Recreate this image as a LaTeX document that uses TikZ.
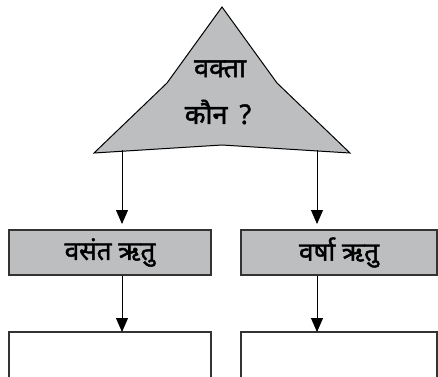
\documentclass[tikz,border=0pt]{standalone}
\usepackage{fontspec}
\newfontfamily\deva[Script=Devanagari,FakeBold=1.6]{Noto Sans}
\usetikzlibrary{arrows.meta}
\definecolor{boxgray}{HTML}{BCBEC0}
\definecolor{edge}{HTML}{333333}
\tikzset{
  graybox/.style={draw=edge, line width=1.2pt, fill=boxgray, minimum height=45pt, inner sep=0pt, font=\deva\fontsize{26}{30}\selectfont},
  emptybox/.style={draw=edge, line width=1.2pt, fill=white},
  label/.style={font=\deva\fontsize{27}{30}\selectfont, inner sep=0pt},
  conn/.style={draw=black, line width=0.9pt, -{Triangle[length=14pt,width=12pt]}},
}
\begin{document}
\begin{tikzpicture}[x=1pt,y=-1pt]
\clip (0,0) rectangle (438,376);
\fill[white] (0,0) rectangle (438,376);
% triangle
\draw[fill=boxgray, draw=black, line width=1pt, line join=miter]
  (222,7) -- (167,83) -- (94,153) -- (222,145) -- (350,153) -- (277,83) -- cycle;
\node[label] (t1) at (220,69) {वक्ता};
\node[label] (t2) at (218,112) {कौन\hspace{12pt}?};
\coordinate (s1) at (122,150);
\coordinate (s2) at (317,150);
% boxes
\node[graybox, minimum width=202pt] (b1) at (110,252.5) {वसंत ऋतु};
\node[graybox, minimum width=196pt] (b2) at (339,252.5) {वर्षा ऋतु};
\draw[emptybox] (9,332) rectangle (211,400);
\draw[emptybox] (241,332) rectangle (437,400);
\coordinate (e1) at (122,332);
\coordinate (e2) at (317,332);
\coordinate (h1) at (122,224);
\coordinate (h2) at (317,224);
\draw[conn] (s1) -- (h1);
\draw[conn] (s2) -- (h2);
\draw[conn] (b1.south -| e1) -- (e1);
\draw[conn] (b2.south -| e2) -- (e2);
\end{tikzpicture}
\end{document}
